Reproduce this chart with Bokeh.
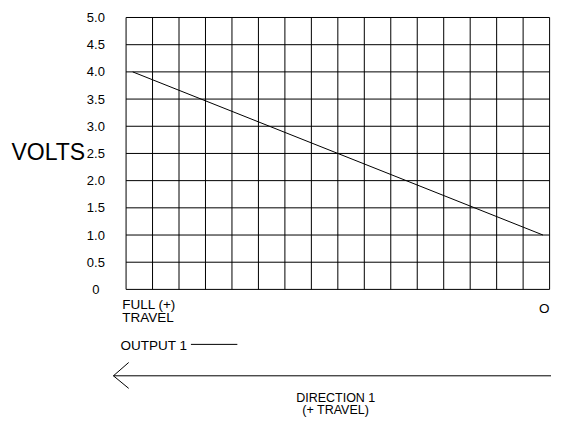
from bokeh.plotting import figure
from bokeh.models import Range1d
from bokeh.core.properties import value
from bokeh.embed import file_html
from bokeh.resources import INLINE

# ---- data ----
travel_positions = [0.25, 15.75]          # output 1 line, in grid columns (FULL (+) TRAVEL -> O)
output1_volts = [4.0, 1.0]
volt_ticks = [0, 0.5, 1.0, 1.5, 2.0, 2.5, 3.0, 3.5, 4.0, 4.5, 5.0]
volt_tick_labels = ["0", "0.5", "1.0", "1.5", "2.0", "2.5", "3.0", "3.5", "4.0", "4.5", "5.0"]
column_edges = list(range(0, 17))
x_left_label = ["FULL (+)", "TRAVEL"]
x_right_label = "O"
series_name = "OUTPUT 1"
direction_label = ["DIRECTION 1", "(+ TRAVEL)"]

FONT = value("Liberation Sans")
X0, X1 = column_edges[0], column_edges[-1]
Y0, Y1 = volt_ticks[0], volt_ticks[-1]

p = figure(width=551, height=418, output_backend="svg", toolbar_location=None,
           x_range=Range1d(-4.744, 16.072), y_range=Range1d(-2.374, 5.3126),
           min_border=0, min_border_left=0, min_border_right=0,
           min_border_top=0, min_border_bottom=0)
p.axis.visible = False
p.grid.visible = False
p.outline_line_color = None
p.background_fill_color = "white"
p.border_fill_color = "white"

# grid
p.segment(x0=column_edges, y0=[Y0] * len(column_edges), x1=column_edges, y1=[Y1] * len(column_edges),
          line_color="black", line_width=1)
p.segment(x0=[X0] * len(volt_ticks), y0=volt_ticks, x1=[X1] * len(volt_ticks), y1=volt_ticks,
          line_color="black", line_width=1)

# series
p.line(travel_positions, output1_volts, line_color="black", line_width=1)

# y tick labels
p.text(x=[-1.14] * len(volt_ticks), y=volt_ticks, text=volt_tick_labels, text_font=FONT,
       text_font_size="13px", text_align="center", text_baseline="middle", text_color="black")

# VOLTS label
p.text(x=[-1.545], y=[2.527], text=["VOLTS"], text_font=FONT, text_font_size="23px",
       text_align="right", text_baseline="middle", text_color="black")

# x end labels
p.text(x=[-0.147, -0.147], y=[-0.283, -0.515], text=x_left_label, text_font=FONT,
       text_font_size="13.5px", text_align="left", text_baseline="middle", text_color="black")
p.text(x=[15.60], y=[-0.346], text=[x_right_label], text_font=FONT,
       text_font_size="13.5px", text_align="left", text_baseline="middle", text_color="black")

# legend
p.text(x=[-0.21], y=[-1.028], text=[series_name], text_font=FONT,
       text_font_size="13.5px", text_align="left", text_baseline="middle", text_color="black")
p.line([2.45, 4.204], [-1.011, -1.011], line_color="black", line_width=1)

# direction arrow
p.line([16.2, -0.478], [-1.589, -1.589], line_color="black", line_width=1)
p.line([0.099, -0.478, 0.099], [-1.344, -1.589, -1.820], line_color="black", line_width=1)

p.text(x=[7.92, 7.92], y=[-1.995, -2.21], text=direction_label, text_font=FONT,
       text_font_size="12.5px", text_align="center", text_baseline="middle", text_color="black")

open("out.html", "w").write(file_html(p, INLINE))
